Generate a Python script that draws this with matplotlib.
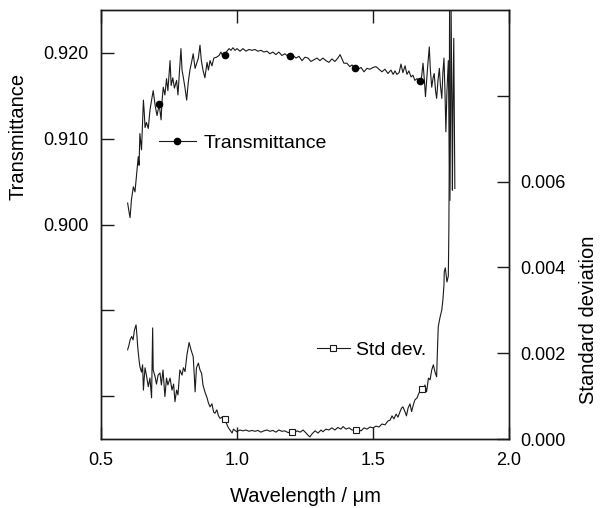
import matplotlib
matplotlib.use('Agg')
import matplotlib.pyplot as plt
import numpy as np
from matplotlib.lines import Line2D

plt.rcParams['font.family'] = ['Liberation Sans', 'DejaVu Sans']

# transmittance spectrum
wl_trans = [0.598, 0.603, 0.607, 0.612, 0.619, 0.625, 0.631, 0.637, 0.640, 0.643,
            0.649, 0.653, 0.656, 0.659, 0.662, 0.667, 0.674, 0.680, 0.686, 0.692,
            0.699, 0.706, 0.714, 0.721, 0.724, 0.729, 0.735, 0.741, 0.746, 0.754,
            0.758, 0.764, 0.770, 0.778, 0.783, 0.789, 0.794, 0.798, 0.803, 0.809,
            0.815, 0.821, 0.827, 0.833, 0.839, 0.846, 0.852, 0.858, 0.864, 0.869,
            0.875, 0.882, 0.890, 0.895, 0.901, 0.908, 0.915, 0.925, 0.934, 0.941,
            0.949, 0.956, 0.963, 0.971, 0.978, 0.985, 0.993, 1.000, 1.011, 1.022,
            1.033, 1.044, 1.055, 1.066, 1.077, 1.088, 1.099, 1.110, 1.121, 1.132,
            1.143, 1.154, 1.165, 1.176, 1.188, 1.195, 1.206, 1.217, 1.228, 1.239,
            1.250, 1.261, 1.272, 1.283, 1.294, 1.305, 1.316, 1.327, 1.338, 1.349,
            1.360, 1.371, 1.379, 1.386, 1.393, 1.404, 1.415, 1.423, 1.434, 1.445,
            1.456, 1.467, 1.478, 1.489, 1.500, 1.511, 1.522, 1.533, 1.544, 1.555,
            1.566, 1.574, 1.581, 1.588, 1.596, 1.603, 1.610, 1.618, 1.625, 1.632,
            1.640, 1.647, 1.654, 1.662, 1.673, 1.678, 1.684, 1.689, 1.693, 1.700,
            1.707, 1.711, 1.716, 1.721, 1.725, 1.730, 1.734, 1.739, 1.744, 1.748,
            1.753, 1.757, 1.761, 1.765, 1.768, 1.772, 1.777, 1.779, 1.783, 1.785,
            1.787, 1.790, 1.792, 1.794, 1.797, 1.799, 1.801]
trans = [0.9025, 0.9015, 0.9008, 0.9029, 0.9044, 0.9038, 0.9058, 0.9079, 0.9069, 0.9106,
         0.9087, 0.9122, 0.9145, 0.9131, 0.9113, 0.9119, 0.9112, 0.9133, 0.9145, 0.9156,
         0.9139, 0.9127, 0.9140, 0.9122, 0.9142, 0.9160, 0.9151, 0.9170, 0.9156, 0.9191,
         0.9162, 0.9171, 0.9159, 0.9168, 0.9151, 0.9180, 0.9205, 0.9180, 0.9171, 0.9159,
         0.9145, 0.9166, 0.9180, 0.9189, 0.9199, 0.9182, 0.9188, 0.9194, 0.9209, 0.9191,
         0.9180, 0.9171, 0.9189, 0.9180, 0.9191, 0.9185, 0.9194, 0.9195, 0.9197, 0.9201,
         0.9196, 0.9198, 0.9202, 0.9205, 0.9203, 0.9206, 0.9203, 0.9205, 0.9202, 0.9205,
         0.9202, 0.9204, 0.9203, 0.9204, 0.9202, 0.9203, 0.9201, 0.9202, 0.9199, 0.9201,
         0.9198, 0.9201, 0.9197, 0.9199, 0.9196, 0.9196, 0.9197, 0.9194, 0.9196, 0.9191,
         0.9195, 0.9194, 0.9190, 0.9192, 0.9194, 0.9191, 0.9194, 0.9191, 0.9189, 0.9193,
         0.9190, 0.9194, 0.9198, 0.9193, 0.9188, 0.9188, 0.9184, 0.9186, 0.9182, 0.9181,
         0.9183, 0.9178, 0.9182, 0.9181, 0.9183, 0.9184, 0.9181, 0.9178, 0.9181, 0.9176,
         0.9180, 0.9175, 0.9179, 0.9175, 0.9177, 0.9187, 0.9177, 0.9185, 0.9175, 0.9179,
         0.9172, 0.9174, 0.9168, 0.9170, 0.9167, 0.9170, 0.9188, 0.9168, 0.9149, 0.9180,
         0.9207, 0.9180, 0.9160, 0.9171, 0.9176, 0.9156, 0.9147, 0.9168, 0.9182, 0.9162,
         0.9147, 0.9177, 0.9194, 0.9151, 0.9108, 0.9156, 0.9191, 0.9133, 0.9028, 0.9121,
         0.9262, 0.9145, 0.9040, 0.9133, 0.9217, 0.9133, 0.9042]

# standard deviation
wl_std = [0.598, 0.603, 0.607, 0.613, 0.618, 0.623, 0.629, 0.632, 0.635, 0.640,
          0.643, 0.649, 0.653, 0.656, 0.659, 0.662, 0.667, 0.674, 0.680, 0.686,
          0.688, 0.690, 0.692, 0.699, 0.704, 0.710, 0.717, 0.722, 0.728, 0.735,
          0.741, 0.746, 0.754, 0.761, 0.767, 0.772, 0.778, 0.783, 0.790, 0.798,
          0.803, 0.809, 0.816, 0.824, 0.831, 0.839, 0.843, 0.846, 0.851, 0.858,
          0.864, 0.870, 0.875, 0.882, 0.890, 0.895, 0.901, 0.908, 0.914, 0.919,
          0.926, 0.932, 0.938, 0.945, 0.950, 0.956, 0.961, 0.967, 0.974, 0.982,
          0.987, 0.999, 1.011, 1.022, 1.033, 1.044, 1.055, 1.066, 1.077, 1.088,
          1.099, 1.110, 1.121, 1.132, 1.143, 1.154, 1.165, 1.176, 1.188, 1.201,
          1.210, 1.221, 1.232, 1.243, 1.254, 1.261, 1.268, 1.276, 1.287, 1.298,
          1.309, 1.316, 1.327, 1.338, 1.349, 1.360, 1.371, 1.382, 1.390, 1.401,
          1.412, 1.423, 1.436, 1.445, 1.456, 1.467, 1.478, 1.489, 1.500, 1.511,
          1.522, 1.533, 1.544, 1.555, 1.563, 1.570, 1.577, 1.585, 1.592, 1.599,
          1.605, 1.610, 1.618, 1.623, 1.629, 1.636, 1.642, 1.648, 1.654, 1.662,
          1.669, 1.679, 1.686, 1.691, 1.697, 1.704, 1.710, 1.716, 1.722, 1.728,
          1.734, 1.737, 1.740, 1.746, 1.753, 1.757, 1.761, 1.762, 1.766, 1.772,
          1.777, 1.779, 1.780, 1.782]
std_dev = [0.00208, 0.00219, 0.00231, 0.00239, 0.00231, 0.00254, 0.00266, 0.00243, 0.00215, 0.00184,
           0.00169, 0.00156, 0.00173, 0.00114, 0.00142, 0.00166, 0.00149, 0.00122, 0.00142, 0.00096,
           0.00184, 0.00259, 0.00161, 0.00145, 0.00128, 0.00149, 0.00154, 0.00126, 0.00161, 0.00099,
           0.00142, 0.00126, 0.00142, 0.00114, 0.00128, 0.00087, 0.00114, 0.00103, 0.00161, 0.00149,
           0.00166, 0.00157, 0.00196, 0.00225, 0.00208, 0.00192, 0.00149, 0.00110, 0.00166, 0.00177,
           0.00161, 0.00153, 0.00126, 0.00110, 0.00096, 0.00084, 0.00075, 0.00082, 0.00063, 0.00060,
           0.00068, 0.00054, 0.00048, 0.00051, 0.00042, 0.00047, 0.00037, 0.00028, 0.00021, 0.00014,
           0.00023, 0.00017, 0.00021, 0.00019, 0.00021, 0.00018, 0.00020, 0.00018, 0.00020, 0.00016,
           0.00019, 0.00021, 0.00018, 0.00020, 0.00016, 0.00021, 0.00018, 0.00019, 0.00015, 0.00017,
           0.00014, 0.00019, 0.00016, 0.00021, 0.00014, 0.00009, 0.00005, 0.00012, 0.00019, 0.00014,
           0.00021, 0.00017, 0.00023, 0.00021, 0.00026, 0.00021, 0.00027, 0.00023, 0.00029, 0.00023,
           0.00026, 0.00021, 0.00021, 0.00023, 0.00019, 0.00026, 0.00023, 0.00028, 0.00026, 0.00030,
           0.00028, 0.00035, 0.00033, 0.00042, 0.00044, 0.00054, 0.00047, 0.00058, 0.00051, 0.00063,
           0.00072, 0.00075, 0.00063, 0.00054, 0.00072, 0.00082, 0.00064, 0.00079, 0.00091, 0.00096,
           0.00107, 0.00117, 0.00114, 0.00126, 0.00110, 0.00142, 0.00138, 0.00161, 0.00173, 0.00156,
           0.00145, 0.00208, 0.00262, 0.00282, 0.00301, 0.00324, 0.00359, 0.00390, 0.00399, 0.00366,
           0.00380, 0.00488, 0.00604, 0.01120]

trans_marks = [0.714, 0.956, 1.195, 1.434, 1.673]
std_marks = [0.956, 1.201, 1.436, 1.679]

x_ticks = [0.5, 1.0, 1.5, 2.0]
x_labels = ['0.5', '1.0', '1.5', '2.0']
left_ticks = [0.880, 0.890, 0.900, 0.910, 0.920]
left_labels = ['', '', '0.900', '0.910', '0.920']
right_ticks = [0.000, 0.002, 0.004, 0.006, 0.008]
right_labels = ['0.000', '0.002', '0.004', '0.006', '']

ink = '#1a1a1a'

fig = plt.figure(figsize=(6, 5.08), dpi=100)
ax = fig.add_axes([0.1683, 0.1358, 0.68, 0.8445])
ax2 = ax.twinx()

idx_t = [int(np.argmin(np.abs(np.array(wl_trans) - m))) for m in trans_marks]
idx_s = [int(np.argmin(np.abs(np.array(wl_std) - m))) for m in std_marks]

ax.plot(wl_trans, trans, color=ink, lw=0.8, marker='o', ms=4.5,
        markevery=idx_t, mfc='black', mec='black')
ax2.plot(wl_std, std_dev, color=ink, lw=0.8, marker='s', ms=5,
         markevery=idx_s, mfc='white', mec=ink, mew=0.8)

ax.set_xlim(0.5, 2.0)
ax.set_ylim(0.875, 0.925)
ax2.set_ylim(0.0, 0.010)

ax.set_xticks(x_ticks)
ax.set_xticklabels(x_labels)
ax.set_yticks(left_ticks)
ax.set_yticklabels(left_labels)
ax2.set_yticks(right_ticks)
ax2.set_yticklabels(right_labels)

ax.xaxis.set_ticks_position('both')
ax.tick_params(axis='x', which='both', direction='in', length=9, width=1,
               top=True, bottom=True, labeltop=False, labelsize=13, pad=9, color=ink)
ax.tick_params(axis='y', direction='in', length=9, width=1,
               labelsize=13, pad=9, color=ink)
ax2.tick_params(axis='y', direction='in', length=9, width=1,
                labelsize=13, pad=8, color=ink)
for a in (ax, ax2):
    for sp in a.spines.values():
        sp.set_color(ink)
        sp.set_linewidth(1)

# legends
h_t = Line2D([], [], color=ink, lw=0.8, marker='o', ms=4.5, mfc='black', mec='black')
h_s = Line2D([], [], color=ink, lw=0.8, marker='s', ms=5, mfc='white', mec=ink, mew=0.8)
ax.legend([h_t], ['Transmittance'], loc='center left', bbox_to_anchor=(0.142, 0.689),
          frameon=False, fontsize=14, handlelength=1.9, handletextpad=0.4,
          borderpad=0, borderaxespad=0)
ax2.legend([h_s], ['Std dev.'], loc='center left', bbox_to_anchor=(0.529, 0.2075),
           frameon=False, fontsize=14, handlelength=1.7, handletextpad=0.3,
           borderpad=0, borderaxespad=0)

fig.text(18 / 600, 1 - 136 / 508, 'Transmittance', rotation=90, ha='center', va='center', fontsize=14.5)
fig.text(588 / 600, 1 - 320 / 508, 'Standard deviation', rotation=90, ha='center', va='center', fontsize=14.5)
fig.text(305 / 600, 1 - 496 / 508, 'Wavelength / \u03bcm', ha='center', va='center', fontsize=14.5)

fig.savefig('out.png', dpi=100)
